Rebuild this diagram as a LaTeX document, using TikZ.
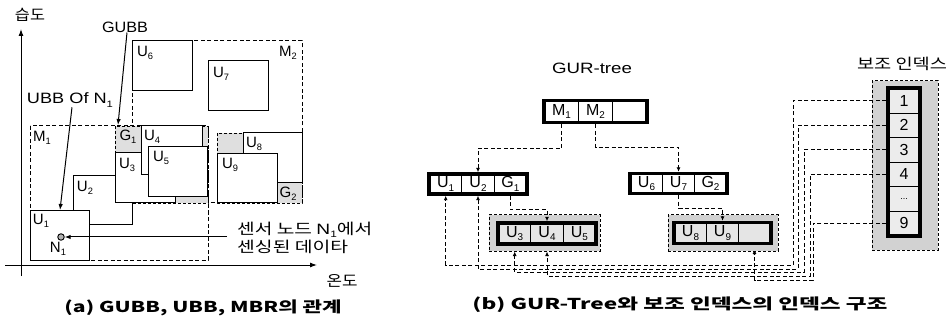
\documentclass[tikz,border=0pt]{standalone}
\usepackage{fontspec}
\usepackage{graphicx}
\setmainfont{Liberation Sans}
\newfontfamily\kr{Noto Sans CJK KR}
\usetikzlibrary{arrows.meta,fit}
\newcommand\fw[2]{\resizebox{#1pt}{\height}{#2}}
\newcommand\ssub[1]{\raisebox{-0.22em}{\scalebox{0.62}{#1}}}
\begin{document}
\begin{tikzpicture}[x=1pt,y=-1pt,
  font=\fontsize{15}{17}\selectfont,
  lbl/.style={inner sep=0pt, font=\fontsize{15}{17}\selectfont},
  ubox/.style={draw, line width=1pt, fill=white},
  gbox/.style={draw, line width=0.9pt, dash pattern=on 3pt off 2pt, fill=gray!25},
  mbox/.style={draw, line width=1pt, dash pattern=on 4pt off 2.5pt},
  axisln/.style={draw, line width=1pt, -{Latex[length=7pt,width=5pt]}},
  ptr/.style={draw, line width=1pt, -{Latex[length=6pt,width=4.5pt]}},
  cell/.style={draw, line width=0.8pt, inner sep=0pt, font=\fontsize{16}{18}\selectfont},
  thickbox/.style={draw, line width=3.6pt, inner sep=0pt},
  grp/.style={draw, line width=1pt, dash pattern=on 3pt off 2pt, fill=gray!35, inner sep=0pt},
  dcon/.style={draw, line width=1pt, dash pattern=on 4pt off 2.5pt},
  tipS/.style={-{Latex[length=4.5pt,width=4pt]}}
]
\useasboundingbox (0,0) rectangle (952,320);

% ---------------- left panel ----------------
\draw[axisln] (21,276) -- (21,29);
\draw[axisln] (5,265) -- (317,265);
\node[lbl] (ylab) at (30,15) {\kr\fw{30}{습도}};
\node[lbl] (xlab) at (342,281) {\kr\fw{31}{온도}};

\draw[mbox] (30,126) rectangle (208,260);
\draw[mbox] (132,41) rectangle (302,203);
\draw[gbox] (115,126) rectangle (208,203);
\draw[gbox] (217,133) rectangle (302,203);

\draw[ubox] (73,176) rectangle (132,225);
\node[lbl] (u2l) at (85,188) {U\ssub{2}};
\draw[ubox] (30,211) rectangle (89,260);
\node[lbl] (u1l) at (41,221) {U\ssub{1}};
\draw[ubox] (115,153) rectangle (175,203);
\node[lbl] (u3l) at (127,165) {U\ssub{3}};
\draw[ubox] (141,126) rectangle (202,175);
\node[lbl] (u4l) at (152,137) {U\ssub{4}};
\draw[ubox] (148,147) rectangle (207,197);
\node[lbl] (u5l) at (161,158) {U\ssub{5}};
\draw[ubox] (132,41) rectangle (192,91);
\node[lbl] (u6l) at (145,53) {U\ssub{6}};
\draw[ubox] (208,61) rectangle (268,111);
\node[lbl] (u7l) at (221,74) {U\ssub{7}};
\draw[ubox] (243,133) rectangle (302,183);
\node[lbl] (u8l) at (254,144) {U\ssub{8}};
\draw[ubox] (217,154) rectangle (277,203);
\node[lbl] (u9l) at (230,165) {U\ssub{9}};

\node[lbl] (m1l) at (42,138) {M\ssub{1}};
\node[lbl] (m2l) at (288,53) {M\ssub{2}};
\node[lbl] (g1l) at (128,137) {G\ssub{1}};
\node[lbl] (g2l) at (288,194) {G\ssub{2}};

\node[lbl] (gubb) at (125,27) {\fw{46}{GUBB}};
\coordinate (g1c) at (118,125);
\draw[ptr] ([xshift=2pt]gubb.south) -- (g1c);
\node[lbl] (ubbl) at (70,100) {\fw{86}{UBB Of N\ssub{1}}};
\coordinate (u1c) at (60,210);
\draw[ptr] ([xshift=2pt]ubbl.south) -- (u1c);

\node[circle, draw, line width=0.9pt, fill=gray!60, inner sep=0pt, minimum size=6.5pt] (n1) at (61,237) {};
\node[lbl] (n1l) at (58,249) {N\ssub{1}};
\node[lbl, anchor=west] (ann1) at (237,230) {\kr\fw{135}{센서 노드 {\rmfamily N\ssub{1}}에서}};
\node[lbl, anchor=west] (ann2) at (237,247) {\kr\fw{111}{센싱된 데이타}};
\coordinate (annp) at (227,237);
\draw[ptr] (annp) -- (n1.east);

\node[lbl, font=\fontsize{15}{17}\selectfont] (capa) at (203,308) {\kr\bfseries\fw{277}{(a) GUBB, UBB, MBR의 관계}};

% ---------------- right panel ----------------
\node[lbl] (gurt) at (592,68) {\fw{80}{GUR-tree}};
\node[lbl, font=\fontsize{15}{17}\selectfont] (bjt) at (902,64) {\kr\fw{90}{보조 인덱스}};

% group boxes
\coordinate (cP) at (489,215); \coordinate (cQ) at (600,251);
\node[grp, fit=(cP)(cQ)] (cC) {};
\coordinate (dP) at (668,215); \coordinate (dQ) at (778,251);
\node[grp, fit=(dP)(dQ)] (dD) {};
\coordinate (iP) at (872,81); \coordinate (iQ) at (938,250);
\node[grp, fit=(iP)(iQ)] (iG) {};

% root
\begin{scope}[every node/.append style={minimum width=34pt, minimum height=21.5pt}]
\node[cell, fill=white] (r1) at (561.5,111.5) {M\ssub{1}};
\node[cell, fill=white] (r2) at (595.5,111.5) {M\ssub{2}};
\node[cell, fill=white] (r3) at (629.5,111.5) {};
\end{scope}
\node[thickbox, fit=(r1)(r3)] (root) {};

% node A
\begin{scope}[every node/.append style={minimum width=32.3pt, minimum height=19pt}]
\node[cell, fill=white] (a1) at (445.7,184) {U\ssub{1}};
\node[cell, fill=white] (a2) at (478,184) {U\ssub{2}};
\node[cell, fill=white] (a3) at (510.3,184) {G\ssub{1}};
\end{scope}
\node[thickbox, fit=(a1)(a3)] (nA) {};

% node B
\begin{scope}[every node/.append style={minimum width=32pt, minimum height=19pt}]
\node[cell, fill=white] (b1) at (646.5,183.5) {U\ssub{6}};
\node[cell, fill=white] (b2) at (678.5,183.5) {U\ssub{7}};
\node[cell, fill=white] (b3) at (710.5,183.5) {G\ssub{2}};
\end{scope}
\node[thickbox, fit=(b1)(b3)] (nB) {};

% node C
\begin{scope}[every node/.append style={minimum width=32.3pt, minimum height=20pt}]
\node[cell, fill=gray!20] (c1) at (514.7,233.5) {U\ssub{3}};
\node[cell, fill=gray!20] (c2) at (547,233.5) {U\ssub{4}};
\node[cell, fill=gray!20] (c3) at (579.3,233.5) {U\ssub{5}};
\end{scope}
\node[thickbox, fit=(c1)(c3)] (nC) {};

% node D
\begin{scope}[every node/.append style={minimum width=32pt, minimum height=20pt}]
\node[cell, fill=gray!20] (d1) at (690.5,233) {U\ssub{8}};
\node[cell, fill=gray!20] (d2) at (722.5,233) {U\ssub{9}};
\node[cell, fill=gray!20] (d3) at (754.5,233) {};
\end{scope}
\node[thickbox, fit=(d1)(d3)] (nD) {};

% index
\begin{scope}[every node/.append style={minimum width=31pt, minimum height=24.5pt}]
\node[cell, fill=gray!15] (i1) at (904,100.75) {1};
\node[cell, fill=gray!15] (i2) at (904,125.25) {2};
\node[cell, fill=gray!15] (i3) at (904,149.75) {3};
\node[cell, fill=gray!15] (i4) at (904,174.25) {4};
\node[cell, fill=gray!15, font=\fontsize{9}{10}\selectfont] (i5) at (904,198.75) {...};
\node[cell, fill=gray!15] (i9) at (904,223.25) {9};
\end{scope}
\node[thickbox, fit=(i1)(i9)] (nI) {};

% tree connectors
\draw[dcon, tipS] (r1 |- root.south) -- ++(0,24) -| (a2 |- nA.north);
\draw[dcon, tipS] (r2 |- root.south) -- ++(0,23) -| (b2 |- nB.north);
\draw[dcon, tipS] (a3 |- nA.south) -- ++(0,14) -| (c2 |- nC.north);
\draw[dcon, tipS] (b2 |- nB.south) -- ++(0,13) -| (d2 |- nD.north);

% index connectors
\coordinate (k1) at (793,265);
\coordinate (k2) at (798,269);
\coordinate (k3) at (804,272);
\coordinate (k4) at (810,276);
\coordinate (k9) at (813,280);
\draw[dcon, tipS] (nI.west |- i1) -| (k1) -| (a1 |- nA.south);
\draw[dcon, tipS] (nI.west |- i2) -| (k2) -| (a2 |- nA.south);
\draw[dcon, tipS] (nI.west |- i3) -| (k3) -| (c1 |- cC.south);
\draw[dcon, tipS] (nI.west |- i4) -| (k4) -| (c2 |- cC.south);
\draw[dcon, -{Circle[length=3.5pt]}] (nI.west |- i9) -| (k9) -| (d3 |- dD.south);

\node[lbl, font=\fontsize{15}{17}\selectfont] (capb) at (680,305) {\kr\bfseries\fw{415}{(b) GUR-Tree와 보조 인덱스의 인덱스 구조}};
\end{tikzpicture}
\end{document}
